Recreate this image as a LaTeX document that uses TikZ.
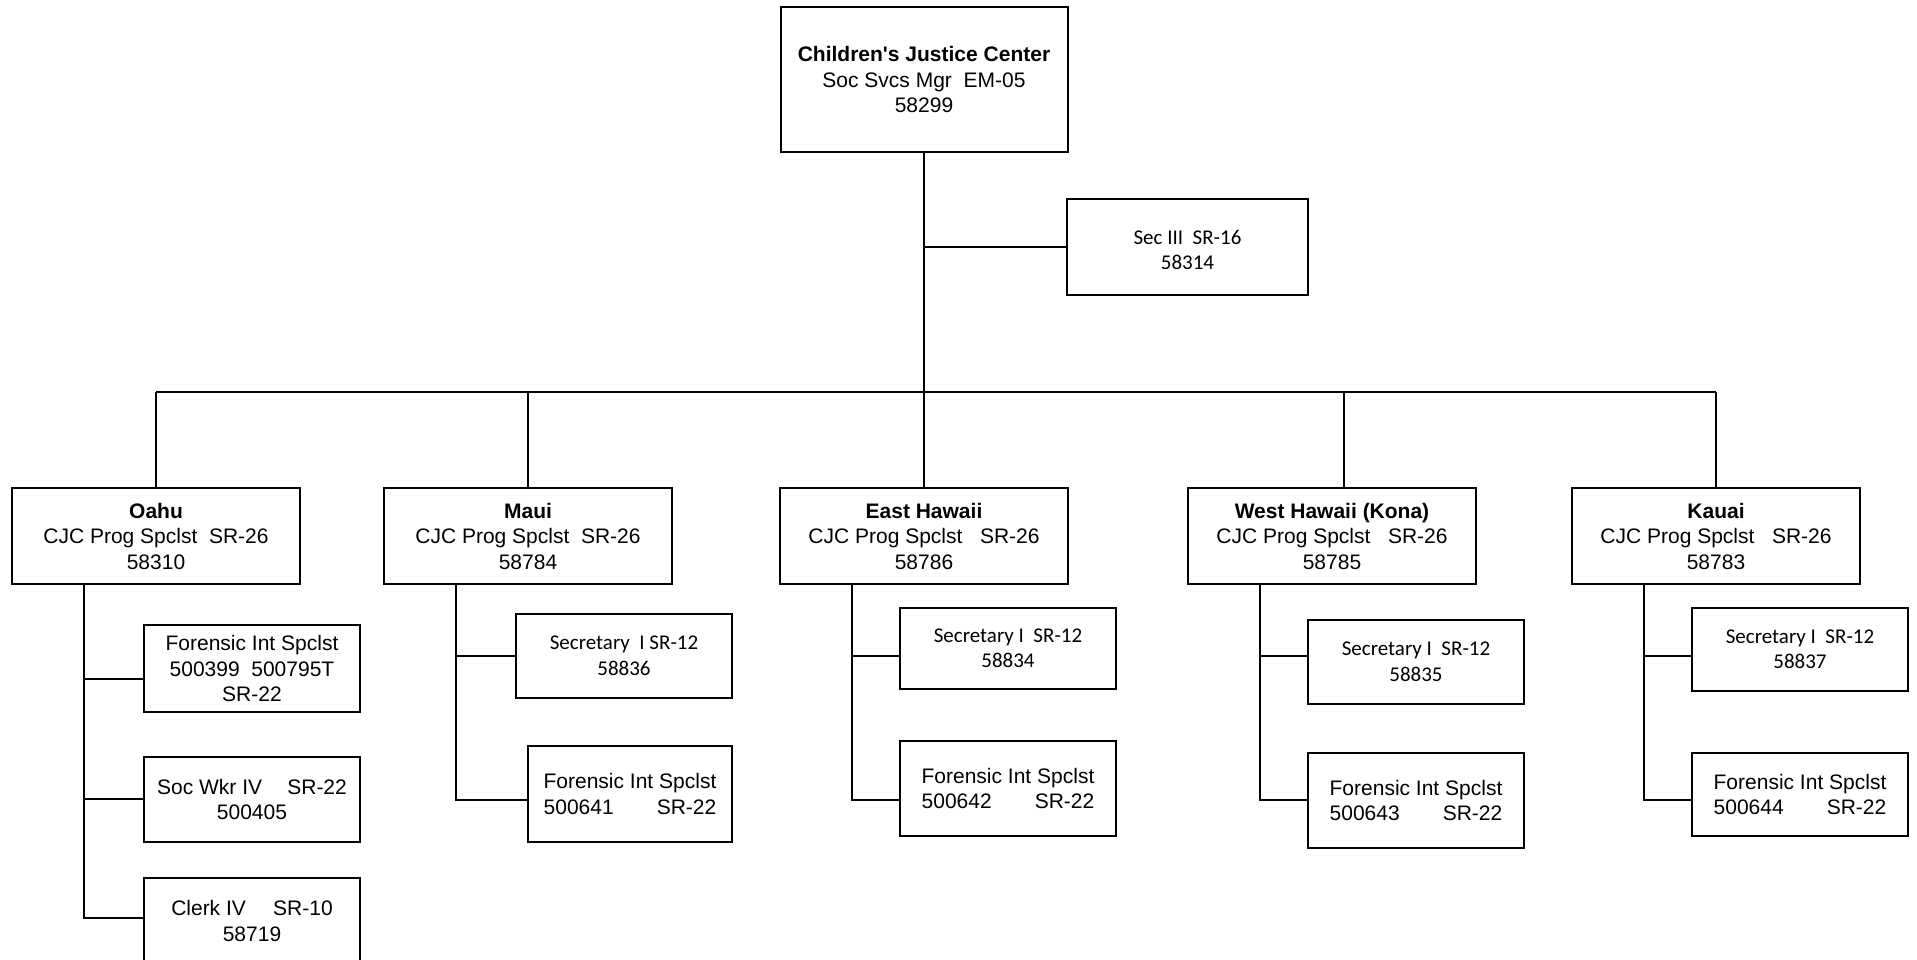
\documentclass[tikz,border=0pt]{standalone}
\usepackage{fontspec}
\setmainfont{Liberation Sans}
\newfontfamily\calib{Carlito}
\begin{document}
\begin{tikzpicture}[x=1pt,y=-1pt,
  line width=2pt,
  box/.style={draw=black,line width=2pt,rectangle,inner sep=0pt,align=center,
    font=\fontsize{21}{25.5}\selectfont},
  cbox/.style={box,font=\calib\fontsize{21}{25.5}\selectfont},
  lvl/.style={box,minimum width=288pt,minimum height=96pt},
  kid/.style={box,minimum width=216pt},
  ckid/.style={cbox,minimum width=216pt},
  link/.style={draw=black,line width=2pt}]
\useasboundingbox (0,0) rectangle (1917,959);
% top
\node[box,minimum width=287pt,minimum height=145pt] (top) at (924,79.5)
  {\textbf{Children\textquotesingle s Justice Center}\\Soc Svcs Mgr\ \ EM-05\\58299};
\node[cbox,minimum width=241pt,minimum height=96pt] (sec) at (1187.5,247)
  {\raisebox{-10pt}[0pt][0pt]{\begin{tabular}{@{}c@{}}Sec III\ \ SR-16\\58314\end{tabular}}};
% level 2
\node[lvl] (oahu) at (156,536) {\textbf{Oahu}\\CJC Prog Spclst\ \ SR-26\\58310};
\node[lvl] (maui) at (528,536) {\textbf{Maui}\\CJC Prog Spclst\ \ SR-26\\58784};
\node[lvl] (east) at (924,536) {\textbf{East Hawaii}\\CJC Prog Spclst\ \ \ SR-26\\58786};
\node[lvl] (west) at (1332,536) {\textbf{West Hawaii (Kona)}\\CJC Prog Spclst\ \ \ SR-26\\58785};
\node[lvl] (kauai) at (1716,536) {\textbf{Kauai}\\CJC Prog Spclst\ \ \ SR-26\\58783};
% Oahu children
\node[kid,minimum height=87pt] (of) at (252,668.5) {Forensic Int Spclst\\500399\ \ 500795T\\SR-22};
\node[kid,minimum height=85pt] (ow) at (252,799.5) {Soc Wkr IV\hspace{1.2em}SR-22\\500405};
\node[kid,minimum height=86pt] (oc) at (252,921) {Clerk IV\hspace{1.3em}SR-10\\58719};
% Maui children
\node[ckid,minimum height=84pt] (ms) at (624,656) {Secretary\ \ I\ SR-12\\58836};
\node[box,minimum width=204pt,minimum height=96pt] (mf) at (630,794) {Forensic Int Spclst\\500641\hspace{2.05em}SR-22};
% East children
\node[ckid,minimum height=81pt] (es) at (1008,648.5) {Secretary I\ \ SR-12\\58834};
\node[kid,minimum height=95pt] (ef) at (1008,788.5) {Forensic Int Spclst\\500642\hspace{2.05em}SR-22};
% West children
\node[ckid,minimum height=84pt] (ws) at (1416,662) {Secretary I\ \ SR-12\\58835};
\node[kid,minimum height=95pt] (wf) at (1416,800.5) {Forensic Int Spclst\\500643\hspace{2.05em}SR-22};
% Kauai children
\node[ckid,minimum height=83pt] (ks) at (1800,649.5) {Secretary I\ \ SR-12\\58837};
\node[kid,minimum height=83pt] (kf) at (1800,794.5) {Forensic Int Spclst\\500644\hspace{2.05em}SR-22};
% connectors
\coordinate (busL) at (156,392);
\coordinate (busR) at (1716,392);
\draw[link] (busL) -- (busR);
\draw[link] (top.south) -- (top.south |- busL);
\draw[link] (top.south |- sec.west) -- (sec.west);
\draw[link] (oahu.north) -- (oahu.north |- busL);
\draw[link] (maui.north) -- (maui.north |- busL);
\draw[link] (east.north) -- (east.north |- busL);
\draw[link] ([xshift=12pt]west.north) -- ([xshift=12pt]west.north |- busL);
\draw[link] (kauai.north) -- (kauai.north |- busL);
% Oahu
\coordinate (ov) at (84,584);
\draw[link] (ov) |- (oc.west |- 0,918);
\draw[link] (ov |- 0,679) -- (of.west |- 0,679);
\draw[link] (ov |- 0,799) -- (ow.west |- 0,799);
% Maui
\coordinate (mv) at (456,584);
\draw[link] (mv) |- (mf.west |- 0,800);
\draw[link] (mv |- 0,656) -- (ms.west |- 0,656);
% East
\coordinate (ev) at (852,584);
\draw[link] (ev) |- (ef.west |- 0,800);
\draw[link] (ev |- 0,656) -- (es.west |- 0,656);
% West
\coordinate (wv) at (1260,584);
\draw[link] (wv) |- (wf.west |- 0,800);
\draw[link] (wv |- 0,656) -- (ws.west |- 0,656);
% Kauai
\coordinate (kv) at (1644,584);
\draw[link] (kv) |- (kf.west |- 0,800);
\draw[link] (kv |- 0,656) -- (ks.west |- 0,656);
\end{tikzpicture}
\end{document}
